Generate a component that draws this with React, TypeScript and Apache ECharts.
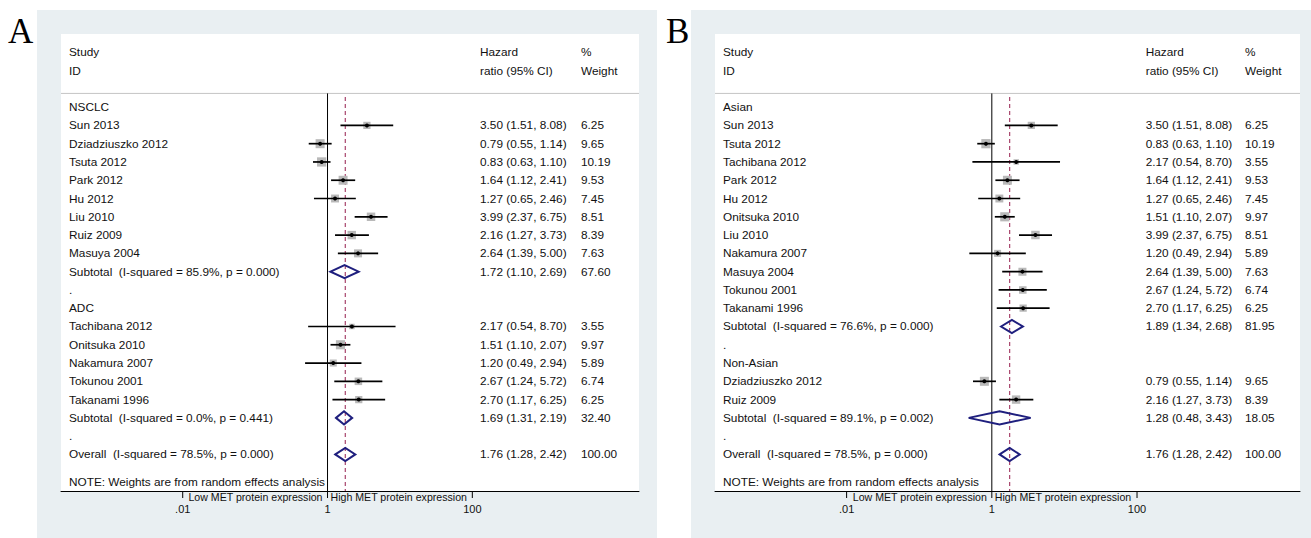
import React, { useEffect, useRef } from 'react';
import * as echarts from 'echarts';

// Individual studies: hazard ratio (95% CI) and random-effects weight (%)
const studyNames = [
  'Sun 2013', 'Dziadziuszko 2012', 'Tsuta 2012', 'Park 2012', 'Hu 2012', 'Liu 2010', 'Ruiz 2009',
  'Masuya 2004', 'Tachibana 2012', 'Onitsuka 2010', 'Nakamura 2007', 'Tokunou 2001', 'Takanami 1996',
];
const hazardRatio = [3.50, 0.79, 0.83, 1.64, 1.27, 3.99, 2.16, 2.64, 2.17, 1.51, 1.20, 2.67, 2.70];
const ciLower = [1.51, 0.55, 0.63, 1.12, 0.65, 2.37, 1.27, 1.39, 0.54, 1.10, 0.49, 1.24, 1.17];
const ciUpper = [8.08, 1.14, 1.10, 2.41, 2.46, 6.75, 3.73, 5.00, 8.70, 2.07, 2.94, 5.72, 6.25];
const weightPct = [6.25, 9.65, 10.19, 9.53, 7.45, 8.51, 8.39, 7.63, 3.55, 9.97, 5.89, 6.74, 6.25];

// Subgroups by histology
const histologyGroups = ['NSCLC', 'ADC'];
const histologyMembers = [
  ['Sun 2013', 'Dziadziuszko 2012', 'Tsuta 2012', 'Park 2012', 'Hu 2012', 'Liu 2010', 'Ruiz 2009', 'Masuya 2004'],
  ['Tachibana 2012', 'Onitsuka 2010', 'Nakamura 2007', 'Tokunou 2001', 'Takanami 1996'],
];
const histologyHR = [1.72, 1.69];
const histologyLower = [1.10, 1.31];
const histologyUpper = [2.69, 2.19];
const histologyWeight = [67.60, 32.40];
const histologyISquared = [85.9, 0.0];
const histologyP = [0.000, 0.441];

// Subgroups by ethnicity
const ethnicityGroups = ['Asian', 'Non-Asian'];
const ethnicityMembers = [
  ['Sun 2013', 'Tsuta 2012', 'Tachibana 2012', 'Park 2012', 'Hu 2012', 'Onitsuka 2010', 'Liu 2010',
    'Nakamura 2007', 'Masuya 2004', 'Tokunou 2001', 'Takanami 1996'],
  ['Dziadziuszko 2012', 'Ruiz 2009'],
];
const ethnicityHR = [1.89, 1.28];
const ethnicityLower = [1.34, 0.48];
const ethnicityUpper = [2.68, 3.43];
const ethnicityWeight = [81.95, 18.05];
const ethnicityISquared = [76.6, 89.1];
const ethnicityP = [0.000, 0.002];

// Pooled estimate over all studies
const overallHR = 1.76;
const overallLower = 1.28;
const overallUpper = 2.42;
const overallWeight = 100.0;
const overallISquared = 78.5;
const overallP = 0.000;

const axisTickValues = [0.01, 1, 100];
const axisTickLabels = ['.01', '1', '100'];
const favoursLow = 'Low MET protein expression';
const favoursHigh = 'High MET protein expression';
const noteText = 'NOTE: Weights are from random effects analysis';

const FONT = '"Liberation Sans", Arial, Helvetica, sans-serif';
const TEXT = '#111111';
const PANEL_BG = '#e9eff2';
const BOX = '#b9b9b9';
const NAVY = '#1f1f7e';
const OVERALL_LINE = '#a8456c';
const BOX_SCALE = 2.9;

type Row = {
  kind: 'header' | 'group' | 'study' | 'pooled' | 'blank' | 'note';
  pos: number;
  label: string;
  col2?: string;
  col3?: string;
  hr?: number;
  lo?: number;
  hi?: number;
  w?: number;
};

const ciText = (hr: number, lo: number, hi: number) =>
  `${hr.toFixed(2)} (${lo.toFixed(2)}, ${hi.toFixed(2)})`;

function buildRows(
  groups: string[], members: string[][], hr: number[], lo: number[], hi: number[],
  w: number[], i2: number[], p: number[],
): Row[] {
  const rows: Row[] = [
    { kind: 'header', pos: -3, label: 'Study', col2: 'Hazard', col3: '%' },
    { kind: 'header', pos: -2, label: 'ID', col2: 'ratio (95% CI)', col3: 'Weight' },
  ];
  let pos = 0;
  groups.forEach((g, gi) => {
    rows.push({ kind: 'group', pos: pos++, label: g });
    members[gi].forEach((name) => {
      const k = studyNames.indexOf(name);
      rows.push({
        kind: 'study', pos: pos++, label: name,
        col2: ciText(hazardRatio[k], ciLower[k], ciUpper[k]), col3: weightPct[k].toFixed(2),
        hr: hazardRatio[k], lo: ciLower[k], hi: ciUpper[k], w: weightPct[k],
      });
    });
    rows.push({
      kind: 'pooled', pos: pos++,
      label: `Subtotal  (I-squared = ${i2[gi].toFixed(1)}%, p = ${p[gi].toFixed(3)})`,
      col2: ciText(hr[gi], lo[gi], hi[gi]), col3: w[gi].toFixed(2),
      hr: hr[gi], lo: lo[gi], hi: hi[gi],
    });
    rows.push({ kind: 'blank', pos: pos++, label: '.' });
  });
  rows.push({
    kind: 'pooled', pos: pos++,
    label: `Overall  (I-squared = ${overallISquared.toFixed(1)}%, p = ${overallP.toFixed(3)})`,
    col2: ciText(overallHR, overallLower, overallUpper), col3: overallWeight.toFixed(2),
    hr: overallHR, lo: overallLower, hi: overallUpper,
  });
  rows.push({ kind: 'note', pos: pos + 0.5, label: noteText });
  return rows;
}

const rowsA = buildRows(histologyGroups, histologyMembers, histologyHR, histologyLower, histologyUpper,
  histologyWeight, histologyISquared, histologyP);
const rowsB = buildRows(ethnicityGroups, ethnicityMembers, ethnicityHR, ethnicityLower, ethnicityUpper,
  ethnicityWeight, ethnicityISquared, ethnicityP);

const panels = [
  { letter: 'A', letterX: 8, rows: rowsA, bgLeft: 37, bgWidth: 620, gridLeft: 61, gridWidth: 578,
    logMin: -3.681, logMax: 4.302, hrCol: 419, wCol: 520 },
  { letter: 'B', letterX: 666, rows: rowsB, bgLeft: 691, bgWidth: 620, gridLeft: 715, gridWidth: 585,
    logMin: -3.813, logMax: 4.245, hrCol: 430.7, wCol: 530 },
];

const GRID_TOP = 34;
const GRID_HEIGHT = 457;
const ROW_MIN = -4;
const ROW_MAX = 21;

function textEl(s: string, x: number, y: number, size: number, align = 'left', valign = 'middle') {
  return {
    type: 'text', x, y, silent: true,
    style: {
      text: s, fill: TEXT, fontSize: size, fontFamily: FONT,
      align, verticalAlign: valign, textAlign: align, textVerticalAlign: valign,
    },
  };
}

function makeRowRenderer(rows: Row[], hrCol: number, wCol: number) {
  return (params: any, api: any) => {
    const row = rows[params.dataIndex];
    const cs = params.coordSys;
    const y = api.coord([1, row.pos])[1];
    const children: any[] = [];
    if (row.kind === 'study') {
      const cx = api.coord([row.hr, row.pos])[0];
      const x1 = api.coord([row.lo, row.pos])[0];
      const x2 = api.coord([row.hi, row.pos])[0];
      const s = BOX_SCALE * Math.sqrt(row.w as number);
      children.push({ type: 'rect', shape: { x: cx - s / 2, y: y - s / 2, width: s, height: s }, style: { fill: BOX } });
      children.push({ type: 'line', shape: { x1, y1: y, x2, y2: y }, style: { stroke: '#000', lineWidth: 1.7 } });
      children.push({ type: 'circle', shape: { cx, cy: y, r: 2 }, style: { fill: '#000' } });
    } else if (row.kind === 'pooled') {
      const top = api.coord([row.hr, row.pos - 0.36]);
      const bottom = api.coord([row.hr, row.pos + 0.36]);
      const xl = api.coord([row.lo, row.pos])[0];
      const xh = api.coord([row.hi, row.pos])[0];
      children.push({
        type: 'polygon',
        shape: { points: [[xl, y], top, [xh, y], bottom] },
        style: { fill: 'none', stroke: NAVY, lineWidth: 2 },
      });
    }
    children.push(textEl(row.label, cs.x + 8, y, 11.8));
    if (row.col2) children.push(textEl(row.col2, cs.x + hrCol, y, 11.8));
    if (row.col3) children.push(textEl(row.col3, cs.x + wCol, y, 11.8));
    return { type: 'group', children };
  };
}

// Reference lines, header rule, axis ticks and direction labels
const renderDecor = (params: any, api: any) => {
  const cs = params.coordSys;
  const bottom = cs.y + cs.height;
  const children: any[] = [];
  const ruleY = api.coord([1, -0.75])[1];
  children.push({ type: 'line', shape: { x1: cs.x, y1: ruleY, x2: cs.x + cs.width, y2: ruleY }, style: { stroke: '#c4c4c4', lineWidth: 1 } });
  const ox = api.coord([overallHR, 0])[0];
  const oTop = api.coord([overallHR, -0.55])[1];
  children.push({ type: 'line', shape: { x1: ox, y1: oTop, x2: ox, y2: bottom }, style: { stroke: OVERALL_LINE, lineWidth: 1.2, lineDash: [4, 3] } });
  const nx = api.coord([1, 0])[0];
  children.push({ type: 'line', shape: { x1: nx, y1: ruleY, x2: nx, y2: bottom }, style: { stroke: '#000', lineWidth: 1 } });
  axisTickValues.forEach((v, i) => {
    const tx = api.coord([v, 0])[0];
    children.push({ type: 'line', shape: { x1: tx, y1: bottom, x2: tx, y2: bottom + 7 }, style: { stroke: '#000', lineWidth: 1 } });
    children.push(textEl(axisTickLabels[i], tx, bottom + 17.5, 11, 'center'));
  });
  children.push(textEl(favoursLow, nx - 5, bottom + 6, 10.6, 'right'));
  children.push(textEl(favoursHigh, nx + 3, bottom + 6, 10.6, 'left'));
  return { type: 'group', children };
};

function buildOption() {
  const grid: any[] = [];
  const xAxis: any[] = [];
  const yAxis: any[] = [];
  const series: any[] = [];
  const graphic: any[] = [];
  panels.forEach((p, i) => {
    graphic.push({ type: 'rect', left: p.bgLeft, top: 10, shape: { width: p.bgWidth, height: 528 }, style: { fill: PANEL_BG }, z: -10, silent: true });
    graphic.push({
      type: 'text', left: p.letterX, top: 14, silent: true,
      style: { text: p.letter, fill: '#000', fontSize: 35, fontFamily: '"Liberation Serif", "Times New Roman", serif' },
    });
    grid.push({
      left: p.gridLeft, top: GRID_TOP, width: p.gridWidth, height: GRID_HEIGHT,
      show: true, backgroundColor: '#ffffff', borderWidth: 0, containLabel: false,
    });
    xAxis.push({
      type: 'log', logBase: 10, gridIndex: i,
      min: Math.pow(10, p.logMin), max: Math.pow(10, p.logMax),
      axisLine: { show: true, onZero: false, lineStyle: { color: '#000', width: 1 } },
      axisTick: { show: false }, axisLabel: { show: false }, splitLine: { show: false },
    });
    yAxis.push({
      type: 'value', gridIndex: i, inverse: true, min: ROW_MIN, max: ROW_MAX, show: false,
      splitLine: { show: false },
    });
    series.push({
      type: 'custom', xAxisIndex: i, yAxisIndex: i, clip: false, silent: true,
      data: [[1, -0.75]],
      renderItem: renderDecor,
      z: 2,
    });
    series.push({
      type: 'custom', xAxisIndex: i, yAxisIndex: i, clip: false, silent: true,
      data: p.rows.map((r) => [r.hr ?? 1, r.pos]),
      renderItem: makeRowRenderer(p.rows, p.hrCol, p.wCol),
      z: 3,
    });
  });
  return {
    animation: false,
    backgroundColor: '#ffffff',
    tooltip: { show: false },
    graphic,
    grid,
    xAxis,
    yAxis,
    series,
  };
}

export default function App() {
  const ref = useRef<HTMLDivElement>(null);
  useEffect(() => {
    document.body.style.margin = '0';
    if (!ref.current) return;
    const chart = echarts.init(ref.current, undefined, { renderer: 'svg' });
    chart.setOption(buildOption() as any);
    return () => chart.dispose();
  }, []);
  return (
    <div style={{ position: 'fixed', left: 0, top: 0, width: 1311, height: 538 }}>
      <div ref={ref} style={{ width: 1311, height: 538 }} />
    </div>
  );
}
